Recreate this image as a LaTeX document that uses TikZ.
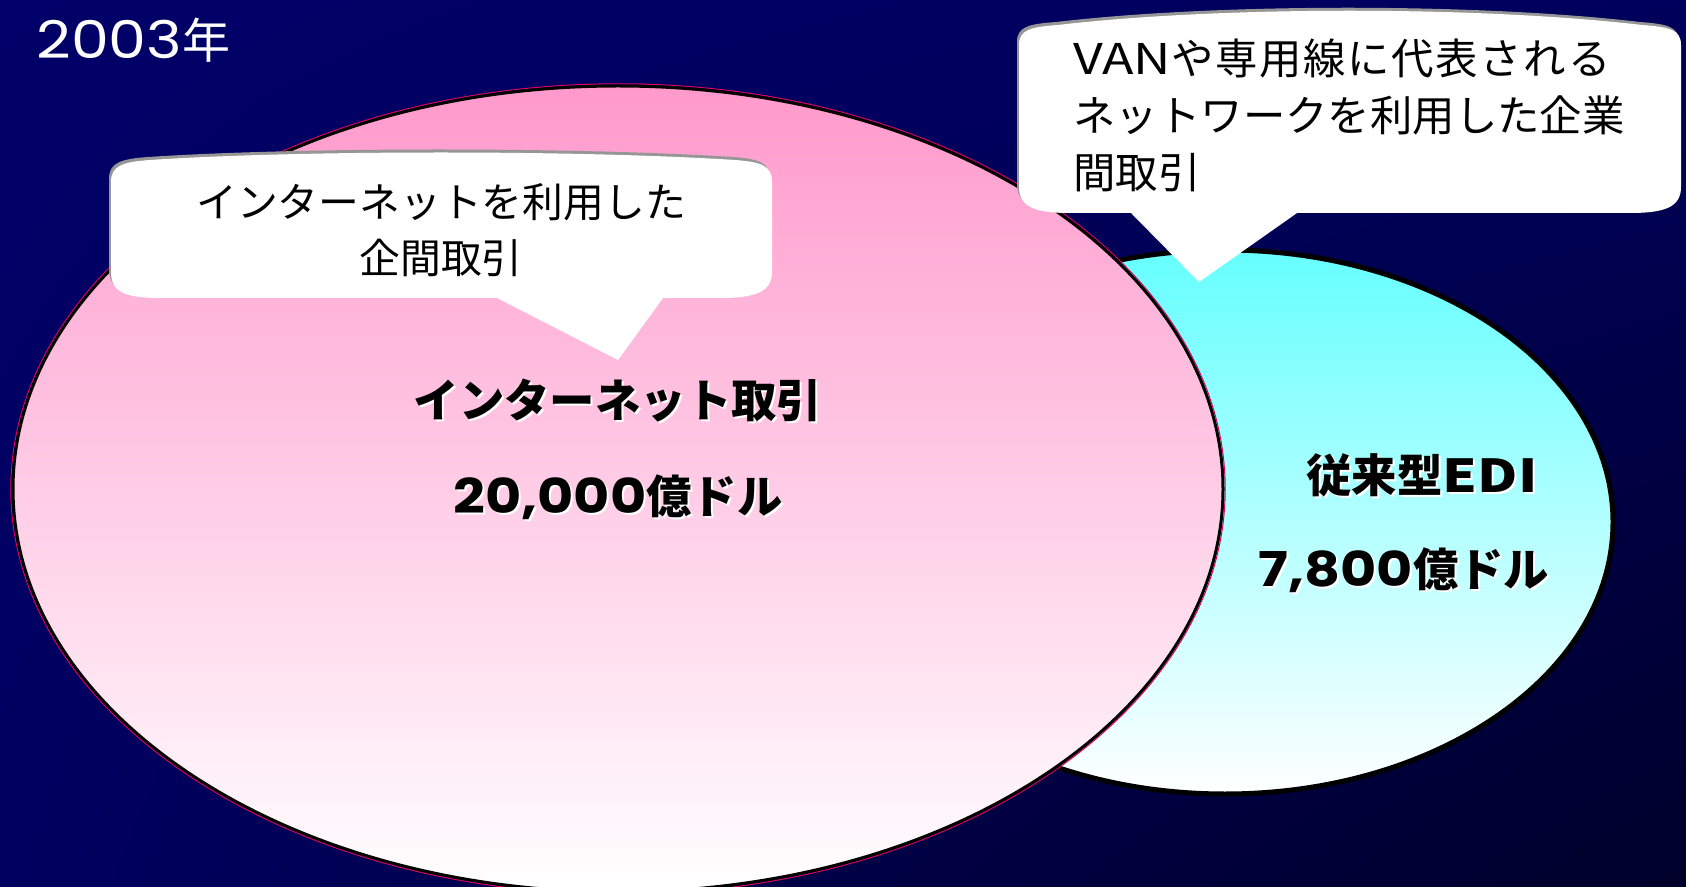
\documentclass[tikz,border=0pt]{standalone}
\usepackage{fontspec}
\usetikzlibrary{shadings}
\setmainfont{Noto Sans CJK JP}
\newfontfamily\digf[FakeStretch=1.16]{Poppins}
\newfontfamily\vanf[FakeStretch=1.22]{Noto Sans CJK JP}
\definecolor{bgUL}{RGB}{0,0,104}
\definecolor{bgUR}{RGB}{0,0,92}
\definecolor{bgLL}{RGB}{0,0,96}
\definecolor{bgLR}{RGB}{0,0,42}
\definecolor{pinkTop}{RGB}{255,153,204}
\definecolor{cyanTop}{RGB}{102,255,255}
\definecolor{rimRed}{RGB}{225,0,95}
\definecolor{shadowGray}{RGB}{150,150,150}
\tikzset{
  calltext/.style={text=black, inner sep=0pt},
  bigtext/.style={text=black, inner sep=0pt, font=\fontsize{22.7pt}{28pt}\selectfont\bfseries},
  bigshadow/.style={text=white, inner sep=0pt, font=\fontsize{22.7pt}{28pt}\selectfont\bfseries},
  bubble/.style={fill=white, draw=none},
  bubbleshadow/.style={fill=shadowGray, draw=none},
}
\newcommand\bigdig[1]{{\digf\fontsize{24pt}{28pt}\selectfont #1}}
\begin{document}
\begin{tikzpicture}[x=0.5pt,y=-0.5pt]
\useasboundingbox (0,0) rectangle (1686,887);
% background
\shade[upper left=bgUL, upper right=bgUR, lower left=bgLL, lower right=bgLR] (0,0) rectangle (1686,887);

% cyan ellipse (behind)
\coordinate (cyc) at (1225,522);
\shade[top color=cyanTop, bottom color=white] (cyc) ellipse [x radius=194pt, y radius=136pt];
\draw[black, line width=2.5pt] (cyc) ellipse [x radius=194pt, y radius=136pt];

% pink ellipse
\coordinate (pkc) at (618,489);
\shade[top color=pinkTop, bottom color=white] (pkc) ellipse [x radius=302.5pt, y radius=201.5pt];
\draw[rimRed, line width=0.5pt] (pkc) ellipse [x radius=303.6pt, y radius=202.6pt];
\draw[black, line width=1.5pt] (pkc) ellipse [x radius=302.5pt, y radius=201.5pt];

% left callout
\def\leftbubble{(111,272) -- (111,182) .. controls (111,166) and (122,162) .. (150,160)
  .. controls (300,150) and (580,150) .. (735,160)
  .. controls (762,162) and (772,166) .. (772,182) -- (772,272)
  .. controls (772,292) and (755,298) .. (720,298) -- (663,298) -- (618,360) -- (497,298)
  -- (160,298) .. controls (125,298) and (111,292) .. (111,272) -- cycle}
\path[bubbleshadow, shift={(-2,-3)}] \leftbubble;
\path[bubble] \leftbubble;

% right callout
\def\rightbubble{(1019,187) -- (1019,45) .. controls (1019,30) and (1030,27) .. (1058,25)
  .. controls (1220,6) and (1480,6) .. (1642,25)
  .. controls (1670,27) and (1681,30) .. (1681,45) -- (1681,187)
  .. controls (1681,207) and (1665,213) .. (1630,213) -- (1297,213) -- (1199,282) -- (1131,213)
  -- (1070,213) .. controls (1035,213) and (1019,207) .. (1019,187) -- cycle}
\path[bubbleshadow, shift={(-2,-3)}] \rightbubble;
\path[bubble] \rightbubble;

% texts
\node[text=white, inner sep=0pt, anchor=west, font=\fontsize{24pt}{28pt}\selectfont] (year) at (36,40) {{\digf\fontsize{26pt}{28pt}\selectfont 2003}年};

\node[calltext, align=center, font=\fontsize{20.4pt}{28pt}\selectfont] (c1t) at (441,230) {インターネットを利用した\\企間取引};
\node[calltext, align=left, anchor=west, font=\fontsize{21.2pt}{28.5pt}\selectfont] (c2t) at (1073,115) {{\vanf VAN}{\addfontfeature{LetterSpace=4}や専用線に代表される}\\ネットワークを利用した企業\\間取引};

\node[bigshadow] (inetS) at (620,403) {インターネット取引};
\node[bigtext] (inet) at (618,401) {インターネット取引};
\node[bigshadow] (inetvS) at (620,499) {\bigdig{20,000}億ドル};
\node[bigtext] (inetv) at (618,497) {\bigdig{20,000}億ドル};

\node[bigshadow] (ediS) at (1424,477) {従来型{\vanf EDI}};
\node[bigtext] (edi) at (1422,475) {従来型{\vanf EDI}};
\node[bigshadow] (edivS) at (1406,572) {\bigdig{7,800}億ドル};
\node[bigtext] (ediv) at (1404,570) {\bigdig{7,800}億ドル};
\end{tikzpicture}
\end{document}
